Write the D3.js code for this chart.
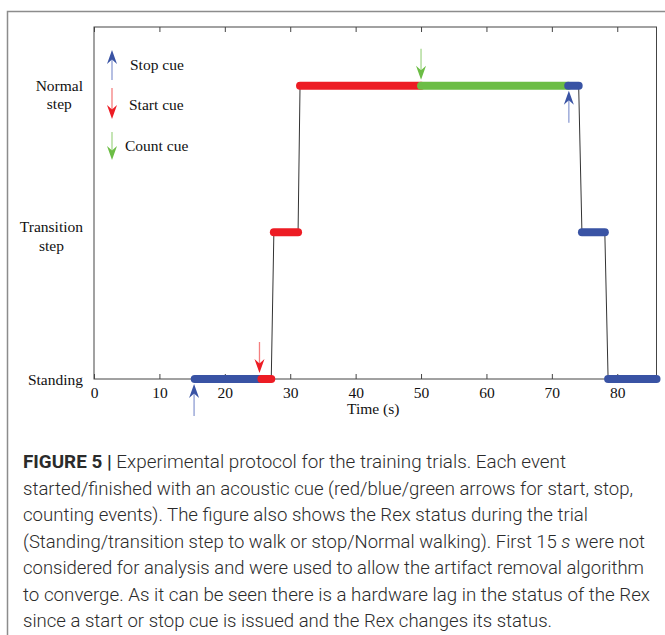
<!DOCTYPE html>
<html>
<head>
<meta charset="utf-8">
<script src="https://cdn.jsdelivr.net/npm/d3@7"></script>
<style>
  html, body { margin: 0; padding: 0; background: #fff; }
  svg { display: block; }
</style>
</head>
<body>
<svg id="chart" width="665" height="635"></svg>
<script>
// Rex status levels (bottom to top)
const levelLabels = [["Standing"], ["Transition", "step"], ["Normal", "step"]];

// Status segments over time: start time, end time (s), level index, cue colour
const segStart = [15.4, 25.6, 27.5, 31.5, 50.0, 72.5, 74.6, 78.6];
const segEnd   = [25.6, 27.1, 31.2, 50.0, 72.5, 74.1, 78.1, 86.0];
const segLevel = [0, 0, 1, 2, 2, 2, 1, 0];
const segCue   = ["stop", "start", "start", "start", "count", "stop", "stop", "stop"];

// Acoustic cue events: time (s), type, level the arrow points at
const cueTime  = [15.3, 25.3, 50.0, 72.6];
const cueType  = ["stop", "start", "count", "stop"];
const cueLevel = [0, 0, 2, 2];

// Axis ticks
const xTicks = [0, 10, 20, 30, 40, 50, 60, 70, 80];

// Legend entries
const legendTypes = ["stop", "start", "count"];
const legendNames = ["Stop cue", "Start cue", "Count cue"];

// Caption lines
const captionLines = [
  [["FIGURE 5 | ", "bold"], ["Experimental protocol for the training trials. Each event", ""]],
  [["started/finished with an acoustic cue (red/blue/green arrows for start, stop,", ""]],
  [["counting events). The figure also shows the Rex status during the trial", ""]],
  [["(Standing/transition step to walk or stop/Normal walking). First 15 ", ""], ["s", "italic"], [" were not", ""]],
  [["considered for analysis and were used to allow the artifact removal algorithm", ""]],
  [["to converge. As it can be seen there is a hardware lag in the status of the Rex", ""]],
  [["since a start or stop cue is issued and the Rex changes its status.", ""]]
];
const captionEnds = [566, 633, 588, 645, 644, 650, 552];

const cueColor = { stop: "#3953a4", start: "#ed1c24", count: "#6cbd45" };
const shaftColor = { stop: "#8e9dd3", start: "#f47f7f", count: "#a6d78d" };

const svg = d3.select("#chart");
const serif = "'Liberation Serif', 'Times New Roman', serif";
const fs = 15.5;

// Outer figure frame (open to the right and bottom)
svg.append("path")
  .attr("d", "M7.5,635 L7.5,11.5 L665,11.5")
  .attr("fill", "none").attr("stroke", "#8c8c8c").attr("stroke-width", 1.5);

const x = d3.scaleLinear().domain([0, 86]).range([94, 656.5]);
const y = d3.scaleLinear().domain([0, 2.4]).range([379, 27]);

// Plot box
svg.append("rect")
  .attr("x", x(0)).attr("y", y(2.4))
  .attr("width", x(86) - x(0)).attr("height", y(0) - y(2.4))
  .attr("fill", "none").attr("stroke", "#444").attr("stroke-width", 1);

// Bottom axis with inward ticks
const gx = svg.append("g").attr("transform", `translate(0,${y(0)})`)
  .call(d3.axisBottom(x).tickValues(xTicks).tickSizeInner(-5).tickSizeOuter(0).tickPadding(8));
gx.select(".domain").remove();
gx.selectAll(".tick line").attr("stroke", "#444");
gx.selectAll(".tick text").attr("font-family", serif).attr("font-size", fs).attr("fill", "#111");

// Top axis, ticks only
const gt = svg.append("g").attr("transform", `translate(0,${y(2.4)})`)
  .call(d3.axisTop(x).tickValues(xTicks).tickSizeInner(-5).tickSizeOuter(0).tickFormat(""));
gt.select(".domain").remove();
gt.selectAll(".tick line").attr("stroke", "#444");

svg.append("text")
  .attr("x", (x(0) + x(86)) / 2 - 2).attr("y", 414)
  .attr("text-anchor", "middle")
  .attr("font-family", serif).attr("font-size", fs).attr("fill", "#111")
  .text("Time (s)");

// Level labels: block right-aligned, lines centred within the block
levelLabels.forEach((lines, i) => {
  const t = svg.append("text")
    .attr("font-family", serif).attr("font-size", fs).attr("fill", "#111")
    .attr("text-anchor", "middle");
  const base = y(i) + (i === 0 ? 6 : i === 1 ? 0 : 5);
  const spans = lines.map((s, k) => t.append("tspan").attr("y", base + k * 18.5).text(s));
  let w = 0;
  spans.forEach(sp => { w = Math.max(w, sp.node().getComputedTextLength()); });
  spans.forEach(sp => sp.attr("x", 83 - w / 2));
});

// Connecting trace through the status segments
const trace = [];
segStart.forEach((s, i) => {
  trace.push([segStart[i], segLevel[i]]);
  trace.push([segEnd[i], segLevel[i]]);
});
svg.append("path")
  .attr("d", d3.line().x(d => x(d[0])).y(d => y(d[1]))(trace))
  .attr("fill", "none").attr("stroke", "#333").attr("stroke-width", 1);

// Coloured status segments
svg.append("g").selectAll("line")
  .data(segStart.map((s, i) => ({ s, e: segEnd[i], l: segLevel[i], c: segCue[i] })))
  .join("line")
  .attr("x1", d => x(d.s)).attr("x2", d => x(d.e))
  .attr("y1", d => y(d.l)).attr("y2", d => y(d.l))
  .attr("stroke", d => cueColor[d.c])
  .attr("stroke-width", 8).attr("stroke-linecap", "round");

// Arrow: tip at (ax, tipY), tail at tailY
function arrow(g, ax, tipY, tailY, type) {
  const dir = tailY > tipY ? 1 : -1;
  g.append("line")
    .attr("x1", ax).attr("x2", ax)
    .attr("y1", tipY + dir * 8).attr("y2", tailY)
    .attr("stroke", shaftColor[type]).attr("stroke-width", 1.3);
  g.append("path")
    .attr("d", `M${ax},${tipY} L${ax + 5},${tipY + dir * 14} L${ax},${tipY + dir * 9.5} L${ax - 5},${tipY + dir * 14} Z`)
    .attr("fill", cueColor[type]);
}

// Cue arrows on the trace
const ga = svg.append("g");
cueTime.forEach((t, i) => {
  const ly = y(cueLevel[i]);
  if (cueType[i] === "stop") arrow(ga, x(t), ly + 5, ly + 37, "stop");
  else arrow(ga, x(t), ly - 6, ly - 37, cueType[i]);
});

// Legend
const gl = svg.append("g");
const legendTip = [50, 119, 160];
const legendTail = [80, 88, 132];
const legendTextX = [130, 129, 125];
const legendTextY = [70, 110, 151];
legendTypes.forEach((tp, i) => {
  arrow(gl, 112, legendTip[i], legendTail[i], tp);
  gl.append("text")
    .attr("x", legendTextX[i]).attr("y", legendTextY[i])
    .attr("font-family", serif).attr("font-size", fs).attr("fill", "#111")
    .text(legendNames[i]);
});

// Caption
const gc = svg.append("g");
captionLines.forEach((parts, i) => {
  const t = gc.append("text")
    .attr("x", 23).attr("y", 468 + i * 26.5)
    .attr("font-family", "Roboto, 'Liberation Sans', sans-serif")
    .attr("font-size", 17.5).attr("font-weight", 300).attr("fill", "#2b2b2b")
    .attr("textLength", captionEnds[i] - 23).attr("lengthAdjust", "spacingAndGlyphs");
  parts.forEach(([s, style]) => {
    const sp = t.append("tspan").text(s);
    if (style === "bold") sp.attr("font-weight", 700);
    if (style === "italic") sp.attr("font-style", "italic");
  });
});
</script>
</body>
</html>
